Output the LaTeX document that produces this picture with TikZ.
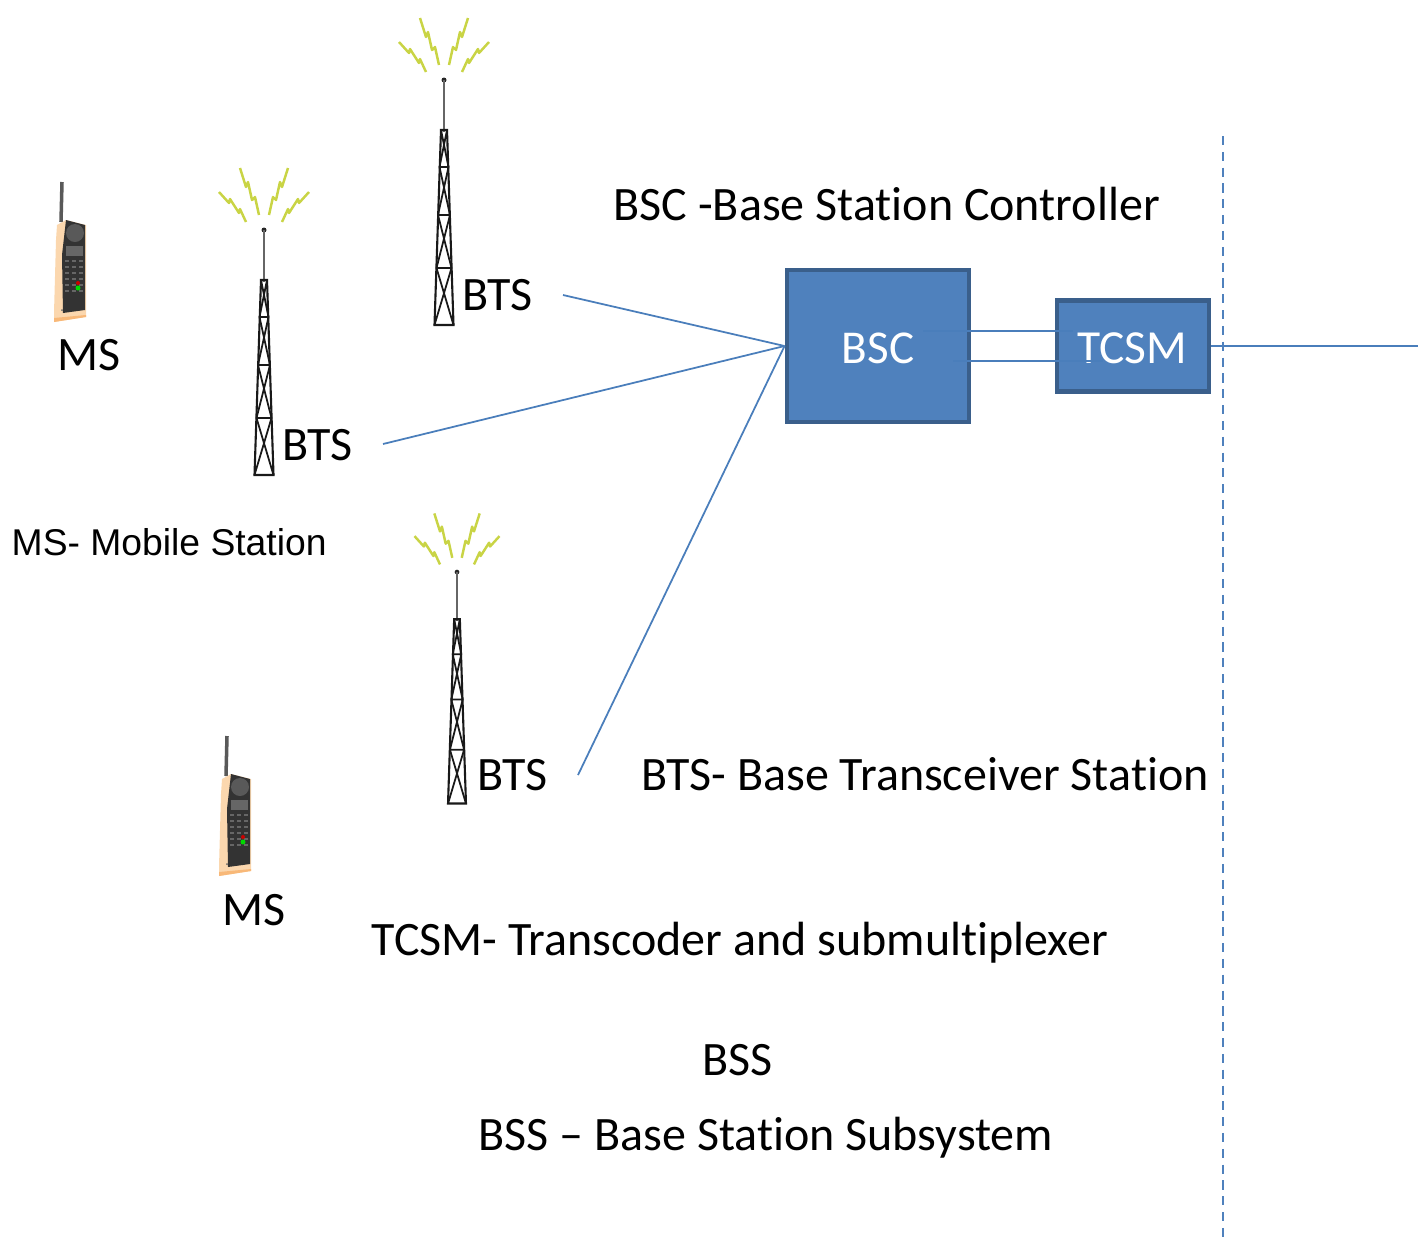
\documentclass[tikz,border=0pt]{standalone}
\usepackage{fontspec}
\setmainfont[RawFeature={-liga}]{Carlito}
\newfontfamily\arialfont{Liberation Sans}
\definecolor{boxblue}{HTML}{4F81BD}
\definecolor{boxedge}{HTML}{3A5F8B}
\definecolor{linkblue}{HTML}{4A7EBB}
\definecolor{boltgreen}{HTML}{C9D445}
\definecolor{phonebody}{HTML}{FBD7AE}
\definecolor{phonebase}{HTML}{F8B878}
\tikzset{
    label text/.style={anchor=base west,inner sep=0pt,font=\fontsize{13.65}{16}\selectfont},
    box/.style={draw=boxedge,fill=boxblue,line width=1.4pt,text=white,font=\fontsize{13.4}{16}\selectfont},
    link/.style={draw=linkblue,line width=0.5pt},
    tower/.pic={
        % the four sparks over the tip
        \foreach \s in {-1,1} {
            \draw[boltgreen,line width=0.7pt,line join=round]
                (\s*45,-38) -- (\s*35,-27) -- (\s*34,-31) -- (\s*25,-17) -- (\s*24,-21) -- (\s*18,-8);
            \draw[boltgreen,line width=0.7pt,line join=round]
                (\s*24,-62) -- (\s*18,-43) -- (\s*16,-48) -- (\s*12,-30) -- (\s*9,-33) -- (\s*5,-15);
        }
        \fill[black!85] (0,0) circle (2.5);
        \draw[black!60,line width=0.7pt] (0,0) -- (0,52);
        % lattice
        \draw[black!90,line width=0.6pt] (-3,50) -- (-9.5,245) -- (9.5,245) -- (3,50) -- cycle;
        \draw[black!90,line width=0.5pt]
            (-4.5,87) -- (4.5,87) (-6,135) -- (6,135) (-7.5,188) -- (7.5,188)
            (-3,50) -- (4.5,87) (3,50) -- (-4.5,87)
            (-4.5,87) -- (6,135) (4.5,87) -- (-6,135)
            (-6,135) -- (7.5,188) (6,135) -- (-7.5,188)
            (-7.5,188) -- (9.5,245) (7.5,188) -- (-9.5,245);
    },
    phone/.pic={
        \draw[black!65,line width=1pt] (32,12) -- (31,52);
        \fill[phonebody] (27,55) -- (36,50) -- (56,55) -- (56,147) -- (24,152) -- (24,143) -- (26,70) -- cycle;
        \fill[phonebase] (24,148) -- (56,145) -- (56,147) -- (24,152) -- cycle;
        \fill[black!80] (36,50) -- (55,55) -- (55,140) -- (33,143) -- (32,85) -- cycle;
        \fill[black!65] (45,63) circle (9);
        \fill[black!60] (36,76) rectangle (53,86);
        \foreach \r in {0,1,2,3,4,5} {
            \foreach \c in {0,1,2} {
                \fill[black!60] (35+\c*7,90+\r*6) rectangle +(4,2);
            }
        }
        \fill[red!80!black] (48,113) circle (2);
        \fill[green!85!black] (48,118) circle (2.5);
        \fill[black!60] (32,140) circle (1);
    }
}

\begin{document}
\begin{tikzpicture}[x=0.01cm,y=-0.01cm]
    \useasboundingbox (0,0) rectangle (1422,1239);

    \pic at (444,80) {tower};
    \pic at (264,230) {tower};
    \pic[scale=0.945] at (457,572) {tower};

    \pic at (30,170) {phone};
    \pic at (195,724) {phone};

    \node[box,minimum width=182*0.01cm,minimum height=152*0.01cm] (bsc) at (878,346) {};
    \node[box,minimum width=152*0.01cm,minimum height=91*0.01cm] (tcsm) at (1133,346) {};
    \node[text=white,inner sep=0pt,font=\fontsize{13.4}{16}\selectfont] (bsclabel) at (878,348) {BSC};
    \node[text=white,inner sep=0pt,font=\fontsize{13.5}{16}\selectfont] (tcsmlabel) at (1132,348) {TCSM};

    \node[label text] (bts1) at (462,310) {BTS};
    \node[label text] (bts2) at (282,460) {BTS};
    \node[label text] (bts3) at (477,790) {BTS};
    \node[label text] (ms1) at (57,370) {MS};
    \node[label text] (ms2) at (222,925) {MS};
    \node[label text] (bscname) at (613,220) {BSC -Base Station Controller};
    \node[label text] (btsname) at (641,790) {BTS- Base Transceiver Station};
    \node[label text] (tcsmname) at (371,955) {TCSM- Transcoder and submultiplexer};
    \node[label text] (bss) at (702,1075) {BSS};
    \node[label text] (bssname) at (478,1150) {BSS -- Base Station Subsystem};
    \node[label text,font=\arialfont\fontsize{10.6}{13}\selectfont] (msname) at (11,555) {MS- Mobile Station};

    \coordinate (bts1 out) at (563,295);
    \coordinate (bts2 out) at (383,444);
    \coordinate (bts3 out) at (578,775);
    \coordinate (upper a) at (923,331);
    \coordinate (upper b) at (1073,331);
    \coordinate (lower a) at (953,361);
    \coordinate (lower b) at (1103,361);
    \coordinate (core) at (1418,346);
    \coordinate (split top) at (1223,136);
    \coordinate (split bottom) at (1223,1239);

    \draw[link] (bts1 out) -- (bsc.west);
    \draw[link] (bts2 out) -- (bsc.west);
    \draw[link] (bts3 out) -- (bsc.west);
    \draw[link] (upper a) -- (upper b);
    \draw[link] (lower a) -- (lower b);
    \draw[link] (tcsm.east) -- (core);
    \draw[boxblue,line width=0.7pt,dash pattern=on 2.6pt off 1.9pt] (split top) -- (split bottom);
\end{tikzpicture}
\end{document}
